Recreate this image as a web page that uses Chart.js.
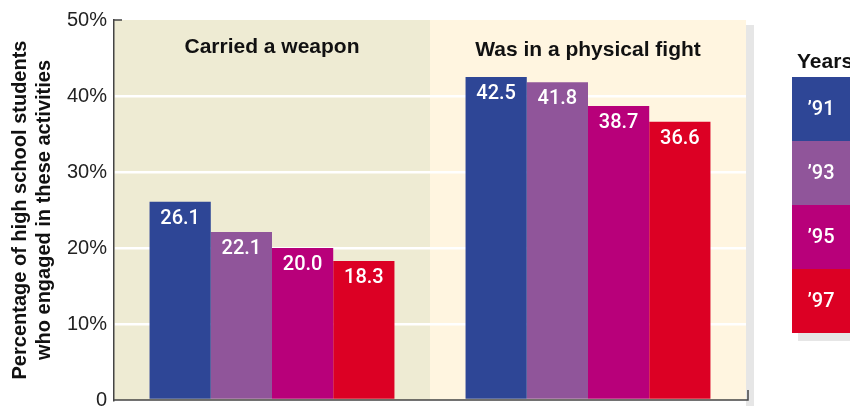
<!DOCTYPE html>
<html lang="en">
<head>
    <meta charset="UTF-8">
    <title>Weapons and fights</title>
    <script src="https://cdn.jsdelivr.net/npm/chart.js@4.4.1/dist/chart.umd.min.js"></script>
    <style>
        html, body { margin: 0; padding: 0; background: #fff; }
        #wrap { width: 850px; height: 406px; position: relative; }
    </style>
</head>
<body>
    <div id="wrap"><canvas id="chart"></canvas></div>

    <script>
        // data
        const categories = ['Carried a weapon', 'Was in a physical fight'];
        const years = ['\u201991', '\u201993', '\u201995', '\u201997'];
        const values1991 = [26.1, 42.5];
        const values1993 = [22.1, 41.8];
        const values1995 = [20.0, 38.7];
        const values1997 = [18.3, 36.6];
        const yTicks = [0, 10, 20, 30, 40, 50];

        const barColors = ['#2e4696', '#90559a', '#b8007a', '#dc0024'];
        const panelColors = ['#eeebd3', '#fff5e0'];
        const boldFont = '"Liberation Sans", Arial, sans-serif';

        // panels, shadow, axis lines, category titles, value labels
        const backdrop = {
            id: 'backdrop',
            beforeDraw(chart) {
                const { ctx, chartArea: a, scales: { x } } = chart;
                const half = (x.getPixelForValue(1) - x.getPixelForValue(0)) / 2;
                ctx.save();
                ctx.fillStyle = '#e6e6e6';
                ctx.fillRect(a.right, a.top + 5, 8, chart.height - a.top);
                categories.forEach((c, i) => {
                    const cx = x.getPixelForValue(i);
                    ctx.fillStyle = panelColors[i];
                    ctx.fillRect(cx - half, a.top, half * 2, a.bottom - a.top);
                });
                ctx.restore();
            },
            afterDatasetsDraw(chart) {
                const { ctx, chartArea: a, scales: { x, y } } = chart;
                ctx.save();
                ctx.strokeStyle = '#444';
                ctx.lineWidth = 1.5;
                ctx.beginPath();
                ctx.moveTo(a.left, y.getPixelForValue(50));
                ctx.lineTo(a.left + 8, y.getPixelForValue(50));
                ctx.moveTo(a.left, a.bottom);
                ctx.lineTo(a.right + 2, a.bottom);
                ctx.lineTo(a.right + 2, a.bottom - 10);
                ctx.stroke();

                ctx.fillStyle = '#111';
                ctx.font = 'bold 21px ' + boldFont;
                ctx.textAlign = 'center';
                ctx.textBaseline = 'alphabetic';
                categories.forEach((c, i) => {
                    ctx.fillText(c, x.getPixelForValue(i), a.top + 33 + i * 3);
                });

                // value labels inside bar tops
                ctx.fillStyle = '#fff';
                ctx.font = '500 20px Roboto, sans-serif';
                ctx.textBaseline = 'middle';
                chart.data.datasets.forEach((ds, di) => {
                    chart.getDatasetMeta(di).data.forEach((bar, i) => {
                        ctx.fillText(ds.data[i].toFixed(1), bar.x, bar.y + 17);
                    });
                });
                ctx.restore();
            }
        };

        // years key on the right
        const yearKey = {
            id: 'yearKey',
            afterDraw(chart) {
                const { ctx } = chart;
                const left = 792, top = 77, h = 64;
                ctx.save();
                ctx.fillStyle = '#111';
                ctx.font = 'bold 21px ' + boldFont;
                ctx.textAlign = 'left';
                ctx.textBaseline = 'alphabetic';
                ctx.fillText('Years', 797, 68);

                ctx.fillStyle = '#e6e6e6';
                ctx.fillRect(left + 6, top + 8, 80, h * years.length);
                ctx.textBaseline = 'middle';
                years.forEach((yr, i) => {
                    ctx.fillStyle = barColors[i];
                    ctx.fillRect(left, top + i * h, 80, h);
                    ctx.fillStyle = '#fff';
                    ctx.font = '500 20px Roboto, sans-serif';
                    ctx.textAlign = 'center';
                    ctx.fillText(yr, left + 29, top + i * h + h / 2 + 1);
                });
                ctx.restore();
            }
        };

        new Chart(document.getElementById('chart'), {
            type: 'bar',
            data: {
                labels: categories,
                datasets: [values1991, values1993, values1995, values1997].map((v, i) => ({
                    label: years[i],
                    data: v,
                    backgroundColor: barColors[i],
                    borderWidth: 0,
                    categoryPercentage: 0.775,
                    barPercentage: 1.0
                }))
            },
            options: {
                responsive: true,
                maintainAspectRatio: false,
                animation: false,
                events: [],
                layout: { padding: { top: 20, right: 104, bottom: 6, left: 0 } },
                plugins: {
                    legend: { display: false },
                    tooltip: { enabled: false }
                },
                scales: {
                    x: { display: false },
                    y: {
                        min: 0,
                        max: 50,
                        afterBuildTicks(scale) {
                            scale.ticks = yTicks.map(v => ({ value: v }));
                        },
                        afterFit(scale) { scale.width = 114; },
                        border: { display: true, color: '#444', width: 1.5 },
                        grid: {
                            drawTicks: true,
                            tickLength: 7,
                            tickColor: 'rgba(0,0,0,0)',
                            lineWidth: 2.5,
                            color: ctx => (ctx.tick && ctx.tick.value > 0 && ctx.tick.value < 50) ? '#ffffff' : 'rgba(0,0,0,0)'
                        },
                        ticks: {
                            padding: 0,
                            color: '#222',
                            font: { family: '"Liberation Sans", Arial, sans-serif', size: 20, lineHeight: 0.6 },
                            callback: v => v === 0 ? '0' : v + '%'
                        },
                        title: {
                            display: true,
                            text: ['Percentage of high school students', 'who engaged in these activities'],
                            color: '#111',
                            font: { family: boldFont, size: 20, weight: 'bold', lineHeight: 1.2 },
                            padding: { top: 8, bottom: 0 }
                        }
                    }
                }
            },
            plugins: [backdrop, yearKey]
        });
    </script>
</body>
</html>
